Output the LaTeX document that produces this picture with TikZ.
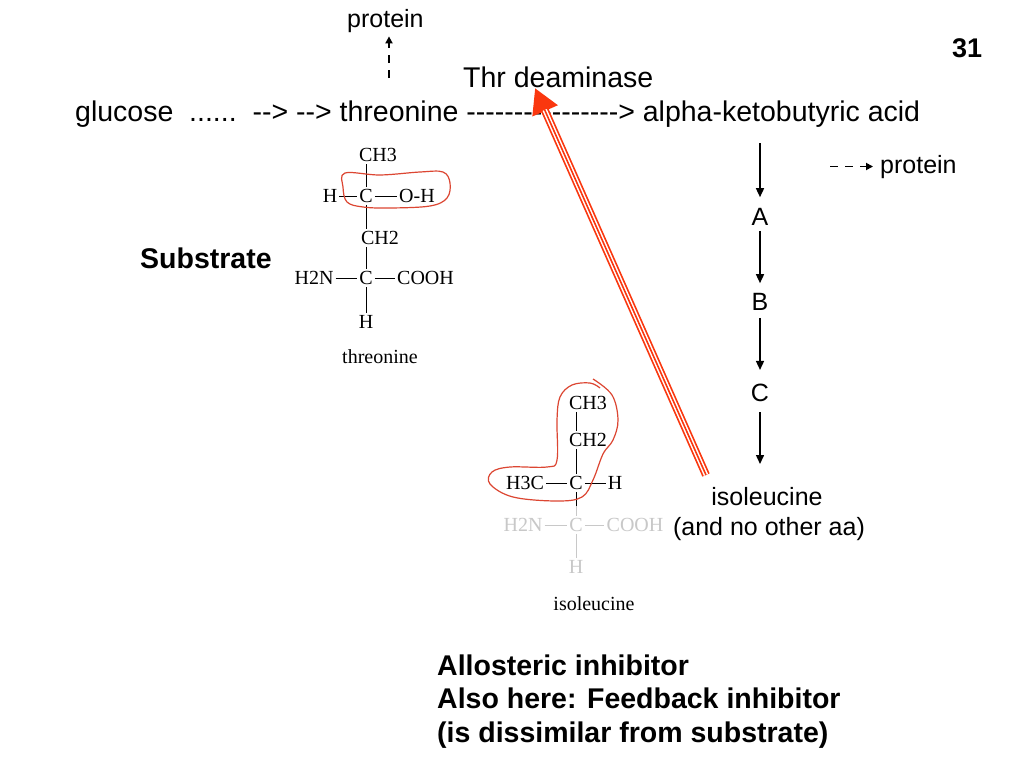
\documentclass[tikz,border=0pt]{standalone}
\usepackage{fontspec}
\newfontfamily\arialf{Liberation Sans}
\newfontfamily\timesf{Liberation Serif}
\usetikzlibrary{arrows.meta,calc}
\definecolor{arrowred}{RGB}{250,55,15}
\definecolor{loopred}{RGB}{220,70,50}
\definecolor{fadegray}{RGB}{200,200,200}
\newcommand\hy{-\kern0pt}
\begin{document}
\begin{tikzpicture}[x=1pt,y=-1pt,
  txt/.style={font=\arialf\fontsize{28.5}{34}\selectfont, inner sep=0pt},
  mid/.style={font=\arialf\fontsize{25}{30}\selectfont, inner sep=0pt},
  boldtxt/.style={font=\arialf\bfseries\fontsize{28.5}{34}\selectfont, inner sep=0pt},
  atom/.style={font=\timesf\fontsize{20}{24}\selectfont, inner sep=2pt},
  gatom/.style={atom, text=fadegray},
  bond/.style={line width=1pt},
  gbond/.style={line width=1pt, fadegray},
  blk/.style={line width=1.5pt, -{Triangle[length=9pt,width=8pt]}},
  dsh/.style={line width=1.8pt, dash pattern=on 8pt off 7pt, -{Triangle[length=7pt,width=7pt]}},
  loop/.style={loopred, line width=1.2pt}
]
\useasboundingbox[fill=white] (0,0) rectangle (1024,768);

% top texts
\node[mid, anchor=base west] (prot1) at (347,28) {protein};
\coordinate (d1) at (389,78);
\draw[dsh, shorten >=3pt] (d1) -- (d1 |- prot1.south);
\node[txt, anchor=base west] (enz) at (463,87) {Thr deaminase};
\node[txt, anchor=base west] (main) at (75,121)
  {glucose\ \ ......\ \ \hy\hy> \hy\hy> threonine \hy\hy\hy\hy\hy\hy\hy\hy\hy\hy\hy\hy\hy\hy\hy\hy> alpha-ketobutyric acid};
\node[font=\arialf\bfseries\fontsize{27}{32}\selectfont, inner sep=0pt, anchor=base west] (num) at (952,57) {31};

% threonine structure
\node[atom] (thC1) at (366,196) {C};
\node[atom] (thCH3) at (378,155) {CH3};
\node[atom] (thH1) at (330,196) {H};
\node[atom] (thOH) at (417,196) {O-H};
\node[atom] (thCH2) at (380,238) {CH2};
\node[atom] (thC2) at (366,278) {C};
\node[atom] (thNH2) at (314,278) {H2N};
\node[atom] (thCOOH) at (425.5,278) {COOH};
\node[atom] (thH2) at (366,322) {H};
\node[atom, anchor=base] (thname) at (380,363) {threonine};
\draw[bond] (thC1.north) -- (thC1.north |- thCH3.south);
\draw[bond] (thH1.east) -- (thC1.west);
\draw[bond] (thC1.east) -- (thOH.west);
\draw[bond] (thC1.south) -- (thC1.south |- thCH2.north);
\draw[bond] (thC2.north |- thCH2.south) -- (thC2.north);
\draw[bond] (thNH2.east) -- (thC2.west);
\draw[bond] (thC2.east) -- (thCOOH.west);
\draw[bond] (thC2.south) -- (thH2.north);
\draw[loop] plot[smooth cycle, tension=0.6] coordinates {(345,173) (380,175) (420,172) (443,172) (450,183) (447,198) (430,206) (390,208) (363,207) (347,202) (343,187)};

\node[boldtxt, anchor=base west] (sub) at (140,268) {Substrate};

% isoleucine structure
\node[atom] (ilC1) at (576,483) {C};
\node[atom] (ilCH3) at (588,403) {CH3};
\node[atom] (ilCH2) at (588,440) {CH2};
\node[atom] (ilH3C) at (525,483) {H3C};
\node[atom] (ilH1) at (615,483) {H};
\node[gatom] (ilC2) at (576,525) {C};
\node[gatom] (ilNH2) at (523,525) {H2N};
\node[gatom] (ilCOOH) at (635,525) {COOH};
\node[gatom] (ilH2) at (576,567) {H};
\node[atom, anchor=base] (ilname) at (594,610) {isoleucine};
\draw[bond] (ilC1 |- ilCH3.south) -- (ilC1 |- ilCH2.north);
\draw[bond] (ilC1 |- ilCH2.south) -- (ilC1.north);
\draw[bond] (ilH3C.east) -- (ilC1.west);
\draw[bond] (ilC1.east) -- (ilH1.west);
\coordinate (ilmid) at ($(ilC1.south)!0.6!(ilC2.north)$);
\draw[bond] (ilC1.south) -- (ilmid);
\draw[gbond] (ilmid) -- (ilC2.north);
\draw[gbond] (ilNH2.east) -- (ilC2.west);
\draw[gbond] (ilC2.east) -- (ilCOOH.west);
\draw[gbond] (ilC2.south) -- (ilH2.north);
\draw[loop] plot[smooth, tension=0.6] coordinates {(593,379) (612,395) (618,420) (613,440) (603,454) (593,480) (582,497) (557,501) (513,497) (490,484) (492,472) (510,467) (547,467) (557,460) (557,420) (560,397) (572,385) (590,383) (600,388)};

% right column
\coordinate (s0) at (760,143);
\node[mid] (A) at (760,217) {A};
\node[mid] (B) at (760,302) {B};
\node[mid] (C) at (760,393) {C};
\coordinate (e4) at (760,464);
\draw[blk, shorten >=11pt] (s0) -- (A.north);
\draw[blk, shorten <=5pt, shorten >=10pt] (A.south) -- (B.north);
\draw[blk, shorten <=7pt, shorten >=14pt] (B.south) -- (C.north);
\draw[blk, shorten <=10pt] (C.south) -- (e4);
\node[mid, anchor=base west] (prot2) at (880,173) {protein};
\coordinate (d0) at (830,166.5);
\draw[dsh, shorten >=7pt] (d0) -- (d0 -| prot2.west);
\node[mid, anchor=base] (iso) at (767,505) {isoleucine};
\node[mid, anchor=base] (noaa) at (769,535) {(and no other aa)};

% bottom text
\node[boldtxt, anchor=base west] (b1) at (437,675) {Allosteric inhibitor};
\node[boldtxt, anchor=base west] (b2) at (437,708) {Also here: Feedback inhibitor};
\node[boldtxt, anchor=base west] (b3) at (437,742) {(is dissimilar from substrate)};

% red inhibition arrow
\coordinate (tip) at (535,88);
\coordinate (tail) at (706,475);
\draw[arrowred, line width=8pt, -{Triangle[length=25pt,width=26pt]}] (tail) -- (tip);
\draw[white, line width=4.6pt, shorten >=24pt] (tail) -- (tip);
\draw[arrowred, line width=1.6pt, shorten >=24pt] (tail) -- (tip);
\end{tikzpicture}
\end{document}
